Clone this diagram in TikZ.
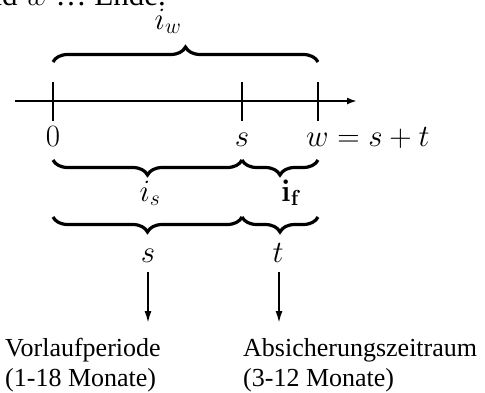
\RequirePackage{fix-cm}
\documentclass[tikz,border=0pt]{standalone}
\usepackage[no-math]{fontspec}
\setmainfont{Liberation Serif}
\usetikzlibrary{decorations.pathreplacing,arrows.meta}
\begin{document}
\begin{tikzpicture}[x=1pt,y=-1pt,
  ax/.style={line width=2.6pt},
  tickline/.style={line width=2.6pt},
  brc/.style={decorate,decoration={brace,amplitude=15pt},line width=3.2pt},
  mbrc/.style={decorate,decoration={brace,mirror,amplitude=15pt},line width=3.2pt},
  mlab/.style={inner sep=0pt,anchor=base,font=\fontsize{31}{36}\selectfont},
  tlab/.style={inner sep=0pt,anchor=base west,font=\fontsize{26}{30}\selectfont},
  arr/.style={line width=1.8pt,-{Latex[length=12pt,width=7pt]}}
]
\useasboundingbox (0,0) rectangle (485,392);
% clipped heading line
\node[inner sep=0pt,anchor=base east,font=\fontsize{31}{36}\selectfont] (head) at (166,5) {und $w$ \dots{} Ende.};
% axis
\coordinate (axL) at (15,101);
\coordinate (axR) at (357,101);
\draw[ax,-{Latex[length=10pt,width=7pt]}] (axL) -- (axR);
% ticks
\coordinate (t0a) at (53,82);  \coordinate (t0b) at (53,121);
\coordinate (tsa) at (242,82); \coordinate (tsb) at (242,121);
\coordinate (twa) at (318,82); \coordinate (twb) at (318,121);
\draw[tickline] (t0a) -- (t0b);
\draw[tickline] (tsa) -- (tsb);
\draw[tickline] (twa) -- (twb);
% top brace
\coordinate (b1a) at (53,62); \coordinate (b1b) at (318,62);
\draw[brc] (b1a) -- (b1b);
\node[mlab] (iw) at (168,29) {$i_w$};
% axis labels
\node[mlab] (l0) at (53,146) {$0$};
\node[mlab] (ls) at (242,146) {$s$};
\node[inner sep=0pt,anchor=base west,font=\fontsize{31}{36}\selectfont] (lw) at (306,146) {$w=s+t$};
% second braces
\coordinate (b2a) at (53,160); \coordinate (b2b) at (242,160); \coordinate (b2c) at (318,160);
\draw[mbrc] (b2a) -- (b2b);
\draw[mbrc] (b2b) -- (b2c);
\node[mlab] (is) at (150,201) {$i_s$};
\node[mlab] (if) at (291,201) {$\mathbf{i}_{\mathbf{f}}$};
% third braces
\coordinate (b3a) at (53,217); \coordinate (b3b) at (242,217); \coordinate (b3c) at (318,217);
\draw[mbrc] (b3a) -- (b3b);
\draw[mbrc] (b3b) -- (b3c);
\node[mlab] (ss) at (148,262) {$s$};
\node[mlab] (tt) at (278,262) {$t$};
% arrows
\coordinate (a1s) at (148,272); \coordinate (a1e) at (148,323);
\coordinate (a2s) at (279,272); \coordinate (a2e) at (279,323);
\draw[arr] (a1s) -- (a1e);
\draw[arr] (a2s) -- (a2e);
% texts
\node[tlab] (v1) at (5,356) {Vorlaufperiode};
\node[tlab] (v2) at (5,386) {(1-18 Monate)};
\node[tlab] (a1) at (243,356) {Absicherungszeitraum};
\node[tlab] (a2) at (243,386) {(3-12 Monate)};
\end{tikzpicture}
\end{document}
